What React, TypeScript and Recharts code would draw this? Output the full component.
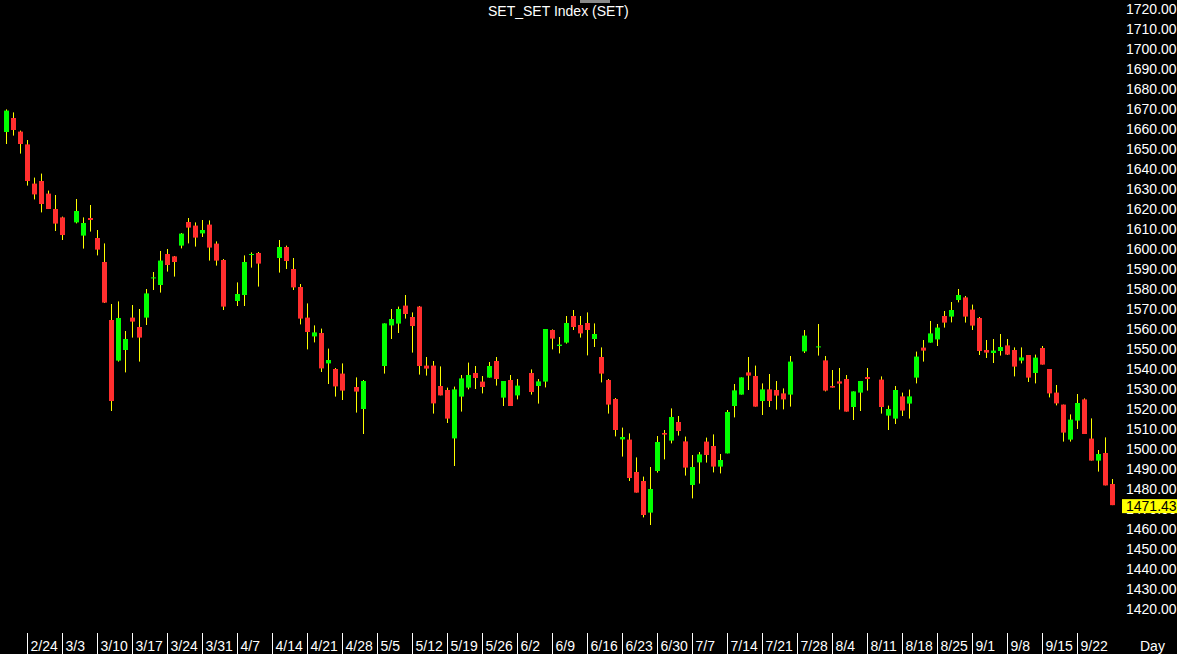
import React from 'react';
import { ComposedChart, Bar, XAxis, YAxis } from 'recharts';

// one slot per weekday; null = market closed that day
const opens = [
  1658, 1665, 1658.2, 1651.8, 1632.2, 1633.5, 1627.2, 1619.5, 1615.3, null,
  1612.8, 1606.2, 1615, 1605, 1593, 1564, 1543.7, 1549, 1565.2, 1560.5,
  1565.2, 1585, 1581.5, 1597, 1595.8, 1601.2, 1613, 1611.2, 1607.3, 1611.7,
  1602.2, 1594, null, 1573.5, 1576.5, 1596.5, 1597.5, null, null, 1595,
  1600.5, 1589.5, 1580.5, 1565.2, 1555.8, 1557.5, 1542.3, 1539.5, 1537.2, null,
  1530.5, 1519.5, null, null, 1541, 1561.3, 1562.2, 1571.2, 1565.5, 1570.7,
  1541.2, 1541.2, 1531, 1529, 1504.8, 1525.7, 1530.2, 1537.5, 1533.2, 1535.2,
  1543.5, 1525.2, 1534, 1526.3, null, 1537.5, 1531, 1533.2, 1559, 1551,
  1552.7, 1566, 1561.5, 1562.5, 1554.5, 1545.5, 1534, 1524.5, 1504.3, 1504.2,
  1488, 1483.5, 1467.7, 1488.5, 1507.5, 1503.7, 1513, 1503.3, 1481.5, 1492.8,
  1503.2, 1501, 1490.7, 1497.3, 1521, 1526.7, 1537.8, 1536, 1523.5, 1529.3,
  1529, 1527.3, 1526.7, null, 1548.3, null, 1550.3, 1543.8, 1531, 1533.3,
  1534.5, 1520.5, 1527.7, 1535.5, null, 1534.2, 1516.2, 1514.7, 1525.8, 1522.2,
  1535.2, 1550.2, 1552.7, 1554.3, 1566, 1565.7, 1574, 1575.3, 1569.2, 1565,
  1549, 1547.5, 1548.5, 1551.3, 1549, 1543.7, 1546.5, 1537.5, 1550, 1539.5,
  1527.7, 1521.7, 1504.2, 1513.7, 1524.3, 1504.7, 1493.7, 1497.5, 1482,
];
const highs = [
  1669.3, 1667.8, 1658.7, 1654, 1635.2, 1637.2, 1628.7, 1626.5, 1615.7, null,
  1624.5, 1615.3, 1621.5, 1609, 1602.3, 1572, 1573.3, 1558.5, 1571.5, 1569.5,
  1579.5, 1588, 1598.5, 1599.5, 1596, 1607.5, 1615, 1612.8, 1614, 1613.8,
  1603.3, 1594.5, null, 1582.8, 1596.3, 1597.8, 1598, null, null, 1604,
  1601.2, 1595, 1582, 1572.3, 1561.3, 1559.7, 1549.7, 1540, 1542.3, null,
  1535.3, 1534, null, null, 1562.3, 1569.5, 1570.7, 1576.5, 1567.8, 1571,
  1545.5, 1543.5, 1540.8, 1530.2, 1530.7, 1536.5, 1542.7, 1541, 1536, 1543,
  1545.5, 1533.5, 1536.5, 1534.5, null, 1539.3, 1534.5, 1559.5, 1559.3, 1555.5,
  1566, 1569, 1566, 1567.8, 1562.3, 1550.3, 1534.5, 1525, 1510.2, 1507.3,
  1495.3, 1485.7, 1490.5, 1506, 1509, 1519.8, 1516, 1505.7, 1496.5, 1498,
  1505.2, 1506.8, 1497, 1519, 1532, 1535.3, 1545.5, 1541.2, 1532.3, 1537,
  1533.5, 1529.8, 1546, null, 1559, null, 1562, 1546, 1539, 1540,
  1536.5, 1528.3, 1533.5, 1540, null, 1535.8, 1521.2, 1531, 1527.7, 1529.2,
  1548.2, 1554, 1563.5, 1562, 1568.5, 1573, 1579.5, 1576, 1571.7, 1565.5,
  1554, 1554.5, 1557, 1554.5, 1550.3, 1550.3, 1546.5, 1546.7, 1551, 1539.5,
  1531.5, 1521.7, 1516.8, 1527, 1524.8, 1514.8, 1499, 1505.3, 1484.5,
];
const lows = [
  1652, 1656.2, 1647.2, 1631.2, 1624.3, 1617.8, 1619.5, 1608.5, 1604, null,
  1612.3, 1599.7, 1608.2, 1596.3, 1572.5, 1518.5, 1543.2, 1537.8, 1555.2, 1543.2,
  1561.5, 1579, 1577.7, 1588.2, 1585.7, 1599.8, 1602.3, 1600.7, 1605.5, 1593.7,
  1591.2, 1569, null, 1571, 1571, 1590.2, 1580.7, null, null, 1587.7,
  1589.5, 1579, 1561.8, 1549.3, 1552.8, 1538, 1532, 1525.7, 1524, null,
  1517.7, 1507, null, null, 1537.2, 1554.5, 1557.5, 1564.7, 1547.7, 1536.7,
  1536.2, 1517.2, 1526.3, 1512.5, 1491, 1518.2, 1529.3, 1529.5, 1527.3, 1535.2,
  1531.2, 1521, 1521, 1524.3, null, 1526.7, 1522.2, 1530.3, 1549.3, 1547.3,
  1552.2, 1559, 1555.2, 1546.3, 1550.5, 1532.8, 1517.2, 1505.8, 1495.7, 1483.5,
  1477.7, 1465.3, 1461.5, 1487.7, 1494.3, 1502.3, 1506.2, 1486.2, 1474.8, 1482.2,
  1492.7, 1487.8, 1487.3, 1497.3, 1515.3, 1526.7, 1529, 1520.7, 1516.5, 1520.5,
  1519.2, 1519.3, 1520.7, null, 1547.5, null, 1546.2, 1528.3, 1530.2, 1519.2,
  1518.2, 1514, 1518.5, 1528.7, null, 1517.2, 1509, 1512, 1516, 1514.7,
  1532.3, 1543.2, 1552.7, 1551, 1560.2, 1562.8, 1572.8, 1562.7, 1559, 1546.5,
  1545, 1542.5, 1546.2, 1546.5, 1535.8, 1542.3, 1533, 1532.3, 1541.7, 1525.3,
  1521.3, 1503.2, 1503.2, 1509.5, 1507, 1493.7, 1488.2, 1481.3, 1471.43,
];
const closes = [
  1668.7, 1659, 1652, 1633.5, 1626.8, 1622, 1619.5, 1612.2, 1606.5, null,
  1618.5, 1612.5, 1614, 1599.2, 1572.7, 1523.5, 1565, 1554.5, 1563.2, 1555.2,
  1577.3, 1585.3, 1593.7, 1591.5, 1593, 1607.2, 1610.2, 1605.2, 1609, 1600.2,
  1593.7, 1570.7, null, 1577, 1593, 1597, 1592.2, null, null, 1600.5,
  1593.5, 1580.3, 1564.7, 1558, 1557.8, 1539.8, 1544, 1530.8, 1528.7, null,
  1528.2, 1533.5, null, null, 1562.3, 1564.5, 1569.5, 1567, 1561, 1541,
  1539.7, 1522.3, 1526.3, 1514.7, 1529.3, 1534.8, 1536.5, 1535, 1530.5, 1541,
  1534.5, 1533.5, 1521, 1531.2, null, 1528, 1533.3, 1559.5, 1554.7, 1551.7,
  1562.5, 1560.5, 1557.3, 1559, 1557, 1537.2, 1521.7, 1509, 1505.5, 1485,
  1477.7, 1466.5, 1479.5, 1503, 1506.7, 1515.5, 1508.5, 1490.2, 1490.5, 1496.8,
  1496.5, 1490.7, 1494, 1518, 1528.8, 1535.3, 1536.2, 1520.7, 1529.3, 1523.5,
  1526.2, 1524.3, 1543.2, null, 1556.2, null, 1550.8, 1528.7, 1530.2, 1532.2,
  1518.2, 1528.3, 1533.5, 1534.5, null, 1520.5, 1519.5, 1529, 1518.7, 1525.8,
  1545.7, 1548.7, 1557.3, 1560.2, 1562.7, 1569, 1576.5, 1565.7, 1561.2, 1548.5,
  1547.7, 1548.7, 1550.5, 1546.7, 1540.7, 1545.3, 1535.2, 1545.2, 1541.7, 1527.3,
  1522.3, 1507.7, 1514.2, 1522.5, 1507, 1493.7, 1497, 1481.3, 1471.43,
];

const weekLabels = [
  '2/24', '3/3', '3/10', '3/17', '3/24', '3/31', '4/7', '4/14', '4/21', '4/28',
  '5/5', '5/12', '5/19', '5/26', '6/2', '6/9', '6/16', '6/23', '6/30', '7/7',
  '7/14', '7/21', '7/28', '8/4', '8/11', '8/18', '8/25', '9/1', '9/8', '9/15', '9/22',
];
const weekStarts = [
  4, 9, 14, 19, 24, 29, 34, 39, 44, 49, 54, 59, 64, 69, 74, 79, 84, 89, 94, 99,
  104, 109, 114, 119, 124, 129, 134, 139, 144, 149, 154,
];
const priceTicks = [
  1720, 1710, 1700, 1690, 1680, 1670, 1660, 1650, 1640, 1630, 1620, 1610, 1600,
  1590, 1580, 1570, 1560, 1550, 1540, 1530, 1520, 1510, 1500, 1490, 1480, 1470,
  1460, 1450, 1440, 1430, 1420,
];
const lastPrice = 1471.43;

const data = opens.map((o, i) =>
  o == null
    ? { i, range: null }
    : { i, open: o, high: highs[i], low: lows[i], close: closes[i], range: [lows[i], highs[i]] }
);

const FONT = '"Liberation Sans", Arial, sans-serif';

const Candle = (props: any) => {
  const { x, y, width, height, payload } = props;
  if (!payload || payload.open == null) return null;
  const { open, high, low, close } = payload;
  const k = height / (high - low);
  const yOf = (v: number) => y + (high - v) * k;
  const cx = x + width / 2;
  const top = yOf(Math.max(open, close));
  const bot = yOf(Math.min(open, close));
  const up = close >= open;
  return (
    <g>
      <line x1={cx} x2={cx} y1={y} y2={y + height} stroke="#ffff00" strokeWidth={1} />
      <rect x={x} y={top} width={width} height={Math.max(1, bot - top)} fill={up ? '#00ff00' : '#ff2e2e'} />
    </g>
  );
};

const WeekTick = (props: any) => {
  const { x, y, payload } = props;
  const label = weekLabels[weekStarts.indexOf(payload.value)];
  return (
    <g>
      <line x1={x - 7} x2={x - 7} y1={y - 3} y2={y + 18} stroke="#fff" strokeWidth={1} />
      <text x={x - 4} y={y + 15} fill="#fff" fontSize={14} fontFamily={FONT}>{label}</text>
    </g>
  );
};

const PriceTick = (props: any) => {
  const { x, y, payload } = props;
  const v = payload.value;
  if (v === lastPrice) {
    return (
      <g>
        <rect x={x - 4} y={y - 6} width={60} height={14} fill="#ffff00" />
        <text x={x} y={y + 1} dy="0.355em" fill="#000" fontSize={14} fontFamily={FONT}>{v.toFixed(2)}</text>
      </g>
    );
  }
  return (
    <text x={x} y={y + 1} dy="0.355em" fill="#fff" fontSize={14} fontFamily={FONT}>{v.toFixed(2)}</text>
  );
};

export default function App() {
  return (
    <div style={{ position: 'absolute', left: 0, top: 0, width: 1177, height: 654, background: '#000', overflow: 'hidden' }}>
      <div style={{ position: 'absolute', left: 580, top: 0, width: 30, height: 3, background: '#8a8a8a' }} />
      <div style={{ position: 'absolute', left: 488, top: 3, color: '#fff', fontFamily: FONT, fontSize: 14, lineHeight: '16px', whiteSpace: 'nowrap' }}>
        SET_SET Index (SET)
      </div>
      <div style={{ position: 'absolute', left: 1140, top: 638, color: '#fff', fontFamily: FONT, fontSize: 14, lineHeight: '16px' }}>
        Day
      </div>
      <ComposedChart width={1177} height={654} data={data} margin={{ top: 0, right: 0, bottom: 0, left: 3 }} barSize={5}>
        <XAxis dataKey="i" type="category" ticks={weekStarts} interval={0} tick={<WeekTick />} axisLine={false} tickLine={false} height={26} />
        <YAxis
          orientation="right"
          type="number"
          domain={[1410, 1724]}
          allowDataOverflow
          ticks={[...priceTicks, lastPrice]}
          interval={0}
          width={61}
          tick={<PriceTick />}
          axisLine={false}
          tickLine={false}
          tickMargin={4}
        />
        <Bar dataKey="range" shape={<Candle />} isAnimationActive={false} />
      </ComposedChart>
    </div>
  );
}
